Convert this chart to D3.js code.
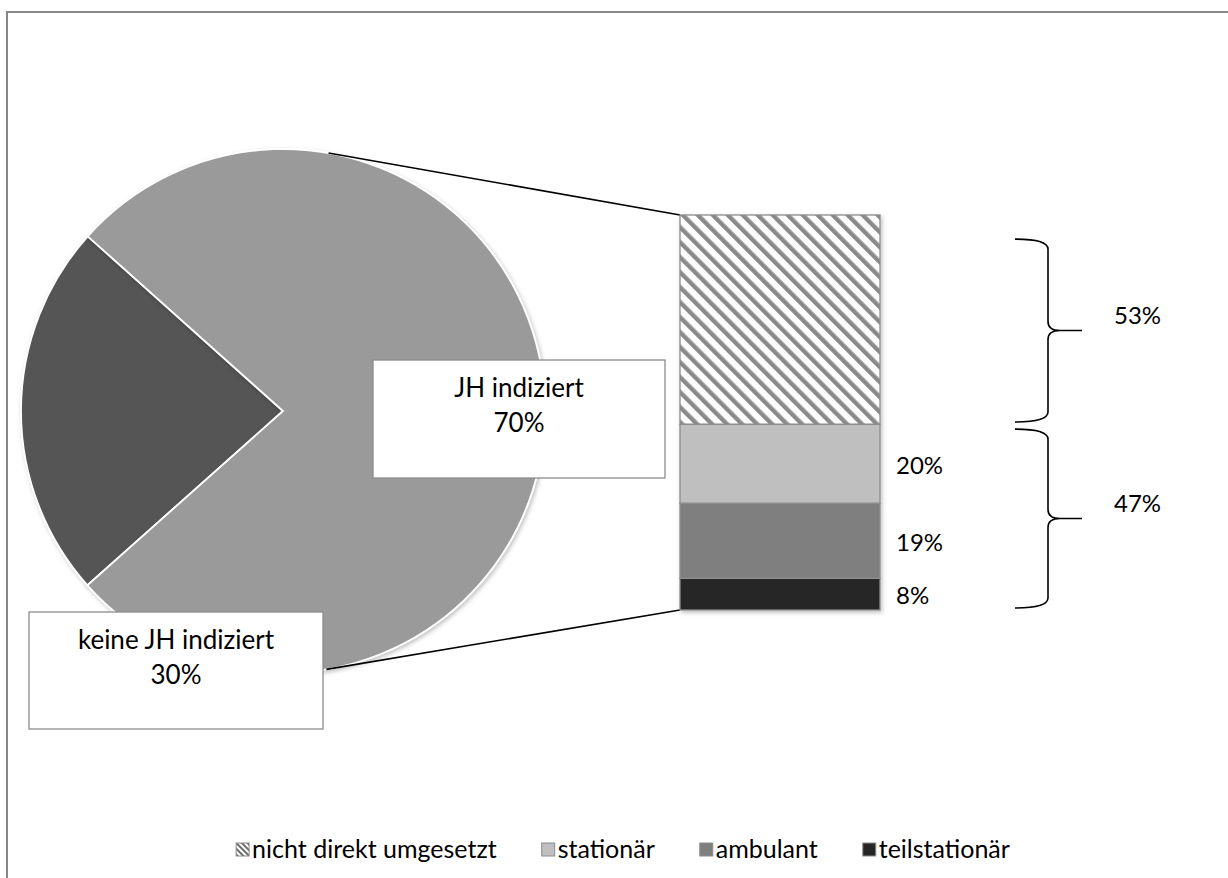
<!DOCTYPE html>
<html>
<head>
<meta charset="utf-8">
<script src="https://cdn.jsdelivr.net/npm/d3@7"></script>
<style>
  html, body { margin: 0; padding: 0; background: #fff; }
  svg { display: block; }
  text { font-family: Lato, "Open Sans", sans-serif; fill: #000; }
</style>
</head>
<body>
<svg id="chart" width="1228" height="878"></svg>
<script>
// ---- data ----
const pieCategories = ["keine JH indiziert", "JH indiziert"];
const pieShares = [23.2, 76.8];              // drawn slice sizes (as in picture)
const pieLabels = ["30%", "70%"];            // labels printed in the text boxes
const barCategories = ["nicht direkt umgesetzt", "stationär", "ambulant", "teilstationär"];
const barValues = [53, 20, 19, 8];
const barLabels = ["", "20%", "19%", "8%"];
const braceGroups = ["53%", "47%"];
const braceRanges = [[6.1, 52.4], [54.2, 99.5]];   // in bar-percent units

(function () {
const svg = d3.select("#chart");
const defs = svg.append("defs");

// hatch pattern
const pat = defs.append("pattern").attr("id", "hatch")
  .attr("patternUnits", "userSpaceOnUse").attr("width", 10.6).attr("height", 10.6)
  .attr("patternTransform", "rotate(-45)");
pat.append("rect").attr("width", 10.6).attr("height", 10.6).attr("fill", "#fff");
pat.append("rect").attr("width", 4.4).attr("height", 10.6).attr("fill", "#8a8a8a");

const patS = defs.append("pattern").attr("id", "hatchS")
  .attr("patternUnits", "userSpaceOnUse").attr("width", 4).attr("height", 4)
  .attr("patternTransform", "rotate(-45)");
patS.append("rect").attr("width", 4).attr("height", 4).attr("fill", "#fff");
patS.append("rect").attr("width", 2).attr("height", 4).attr("fill", "#6a6a6a");

const sh = defs.append("filter").attr("id", "shadow")
  .attr("x", "-10%").attr("y", "-10%").attr("width", "120%").attr("height", "120%");
sh.append("feDropShadow").attr("dx", 1.5).attr("dy", 2).attr("stdDeviation", 2)
  .attr("flood-color", "#000").attr("flood-opacity", 0.25);

// frame
svg.append("rect").attr("x", 7).attr("y", 12).attr("width", 1240).attr("height", 900)
  .attr("fill", "#fff").attr("stroke", "#878787").attr("stroke-width", 2);

// ---- pie ----
const cx = 283, cy = 411, R = 262;
const deg = Math.PI / 180;
const pie = d3.pie().sort(null).startAngle(228.3 * deg).endAngle((228.3 + 360) * deg);
const arcs = pie(pieShares);
const arc = d3.arc().innerRadius(0).outerRadius(R);
const pieColors = ["#545454", "#9a9a9a"];

const pg = svg.append("g").attr("transform", `translate(${cx},${cy})`);
pg.selectAll("path").data(arcs).join("path")
  .attr("d", arc)
  .attr("fill", (d, i) => pieColors[i])
  .attr("stroke", "#fff").attr("stroke-width", 1.8)
  .attr("filter", "url(#shadow)");

// ---- bar ----
const barX = 680, barW = 200;
const y = d3.scaleLinear().domain([0, 100]).range([215, 610]);
const cum = d3.cumsum(barValues);
const segs = barValues.map((v, i) => ({ v, y0: cum[i] - v, y1: cum[i], i }));
const barFills = ["url(#hatch)", "#bfbfbf", "#7f7f7f", "#262626"];

// connectors (tangent lines from bar corners to pie)
function tangent(px, py, sign) {
  const dx = px - cx, dy = py - cy, d = Math.hypot(dx, dy);
  const a = Math.atan2(dy, dx) + sign * Math.acos(R / d);
  return [cx + R * Math.cos(a), cy + R * Math.sin(a)];
}
const tp = tangent(barX, y(0), -1), bt = tangent(barX, y(100), 1);
svg.append("line").attr("x1", tp[0]).attr("y1", tp[1]).attr("x2", barX).attr("y2", y(0))
  .attr("stroke", "#000").attr("stroke-width", 1.6);
svg.append("line").attr("x1", bt[0]).attr("y1", bt[1]).attr("x2", barX).attr("y2", y(100))
  .attr("stroke", "#000").attr("stroke-width", 1.6);

const bg = svg.append("g").attr("filter", "url(#shadow)");
bg.selectAll("rect").data(segs).join("rect")
  .attr("x", barX).attr("width", barW)
  .attr("y", d => y(d.y0)).attr("height", d => y(d.y1) - y(d.y0))
  .attr("fill", d => barFills[d.i])
  .attr("stroke", "#8c8c8c").attr("stroke-width", 1.3);

// bar labels
svg.selectAll("text.blab").data(segs.filter(d => barLabels[d.i])).join("text")
  .attr("class", "blab")
  .attr("x", 896).attr("y", d => y((d.y0 + d.y1) / 2) + 10)
  .attr("font-size", 24)
  .text(d => barLabels[d.i]);

// braces
const bxL = 1015, bxM = 1048, bxT = 1082;
braceGroups.forEach((lab, i) => {
  const y0 = y(braceRanges[i][0]), y1 = y(braceRanges[i][1]), ym = (y0 + y1) / 2;
  const p = `M${bxL},${y0} Q${bxM},${y0} ${bxM},${y0 + 10} L${bxM},${ym - 9} Q${bxM},${ym} ${bxM + 12},${ym} L${bxT},${ym}` +
            ` M${bxM + 12},${ym} Q${bxM},${ym} ${bxM},${ym + 9} L${bxM},${y1 - 10} Q${bxM},${y1} ${bxL},${y1}`;
  svg.append("path").attr("d", p).attr("fill", "none").attr("stroke", "#000").attr("stroke-width", 1.6);
  svg.append("text").attr("x", 1114).attr("y", ym - 7).attr("font-size", 24).text(lab);
});

// pie label boxes
const boxes = [
  { i: 0, x: 29, y: 612, w: 294, h: 117 },
  { i: 1, x: 373, y: 360, w: 292, h: 118 }
];
boxes.forEach(b => {
  svg.append("rect").attr("x", b.x).attr("y", b.y).attr("width", b.w).attr("height", b.h)
    .attr("fill", "#fff").attr("stroke", "#8c8c8c").attr("stroke-width", 1.3);
  const t = svg.append("text").attr("text-anchor", "middle").attr("font-size", 26);
  t.append("tspan").attr("x", b.x + b.w / 2).attr("y", b.y + 37).text(pieCategories[b.i]);
  t.append("tspan").attr("x", b.x + b.w / 2).attr("y", b.y + 72).text(pieLabels[b.i]);
});

// legend
const legendFills = ["url(#hatchS)", "#bfbfbf", "#7f7f7f", "#262626"];
const lg = svg.append("g");
let lx = 0;
const gap = 45;
barCategories.forEach((c, i) => {
  const g = lg.append("g");
  g.append("rect").attr("x", 0).attr("y", -7).attr("width", 13).attr("height", 13)
    .attr("fill", legendFills[i]).attr("stroke", "#8c8c8c").attr("stroke-width", 1);
  const t = g.append("text").attr("x", 16).attr("y", 8).attr("font-size", 25).text(c);
  const w = 16 + t.node().getComputedTextLength();
  g.attr("transform", `translate(${lx},0)`);
  lx += w + gap;
});
const totalW = lx - gap;
lg.attr("transform", `translate(${623 - totalW / 2},850)`);
})();
</script>
</body>
</html>
